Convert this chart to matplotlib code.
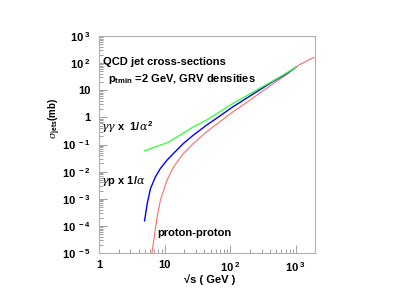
import numpy as np
import matplotlib
matplotlib.use("Agg")
import matplotlib.pyplot as plt
from matplotlib.ticker import FixedLocator, LogLocator, NullFormatter

plt.rcParams['font.family'] = ['Liberation Sans', 'DejaVu Sans']
plt.rcParams['mathtext.fontset'] = 'custom'
plt.rcParams['mathtext.rm'] = 'Liberation Sans:bold'
plt.rcParams['mathtext.it'] = 'DejaVu Serif:italic'
plt.rcParams['mathtext.bf'] = 'Liberation Sans:bold'

# sqrt(s) in GeV, cross sections in mb
gg_x = [4.94, 6.83, 10.87, 17.25, 27.4, 43.6, 69.2, 109.8, 175, 277, 441, 702, 993]
gg_y = [0.0586, 0.0782, 0.1156, 0.222, 0.450, 0.795, 1.61, 3.29, 6.11,
        11.7, 21.8, 42.0, 70.0]

gp_x = [4.94, 5.43, 6.09, 7.24, 8.61, 10.87, 13.67, 19.35, 27.4, 43.6,
        69.2, 109.8, 175, 277, 441, 702, 993]
gp_y = [1.53e-4, 6.71e-4, 2.40e-3, 6.43e-3, 0.0131, 0.0266, 0.047, 0.110,
        0.222, 0.520, 1.12, 2.46, 5.02, 10.2, 20.6, 39.6, 70.0]

pp_x = [6.40, 6.83, 7.68, 8.61, 10.87, 13.67, 19.35, 27.4, 43.6, 69.2,
        109.8, 175, 277, 441, 702, 1114, 1875]
pp_y = [1.0e-5, 2.96e-5, 2.15e-4, 8.88e-4, 4.86e-3, 0.0150, 0.047, 0.110,
        0.294, 0.689, 1.61, 3.46, 7.69, 16.9, 36.4, 85.1, 164]

x_ticks = [1, 10, 100, 1000]
x_labels = ['1', '10', r'$10^{\ 2}$', r'$10^{\ 3}$']
y_ticks = [1e-5, 1e-4, 1e-3, 1e-2, 1e-1, 1, 10, 100, 1000]
y_labels = [r'$10^{\ -5}$', r'$10^{\ -4}$', r'$10^{\ -3}$', r'$10^{\ -2}$',
            r'$10^{\ -1}$', '1', '10', r'$10^{\ 2}$', r'$10^{\ 3}$']

fig = plt.figure(figsize=(4, 2.99), dpi=100)
ax = fig.add_axes([0.2475, 0.1538, 0.54, 0.7258])

ax.plot(pp_x, pp_y, color='#ff6a6a', lw=0.8)
ax.plot(gp_x, gp_y, color='#0000ff', lw=1.0)
ax.plot(gg_x, gg_y, color='#40ff40', lw=1.0)

ax.set_xscale('log')
ax.set_yscale('log')
ax.set_xlim(1, 1950)
ax.set_ylim(1e-5, 1e3)

for s in ax.spines.values():
    s.set_color('#b0b0b0')
    s.set_linewidth(0.8)

ax.xaxis.set_major_locator(FixedLocator(x_ticks))
ax.set_xticklabels(x_labels)
ax.yaxis.set_major_locator(FixedLocator(y_ticks))
ax.set_yticklabels(y_labels)
ax.xaxis.set_minor_locator(LogLocator(base=10, subs=np.arange(2, 10), numticks=20))
ax.yaxis.set_minor_locator(LogLocator(base=10, subs=np.arange(2, 10), numticks=20))
ax.xaxis.set_minor_formatter(NullFormatter())
ax.yaxis.set_minor_formatter(NullFormatter())
ax.tick_params(which='both', direction='in', color='#909090', width=0.6,
               top=False, right=False, labelsize=8)
ax.tick_params(which='major', length=6)
ax.tick_params(which='minor', length=3)
ax.tick_params(axis='x', pad=5)
ax.tick_params(axis='y', pad=6)
for lab in ax.get_xticklabels() + ax.get_yticklabels():
    lab.set_fontweight('bold')

ax.text(0.02, 0.865, 'QCD jet cross-sections', transform=ax.transAxes,
        fontsize=8, fontweight='bold')
ax.text(0.04, 0.79, r'p$_{\mathregular{tmin}}$ =2 GeV, GRV densities',
        transform=ax.transAxes, fontsize=8, fontweight='bold')
ax.text(0.01, 0.56, r'$\gamma\gamma$ x  1/$\alpha^2$', transform=ax.transAxes,
        fontsize=8, fontweight='bold')
ax.text(0.01, 0.32, r'$\gamma$p x 1/$\alpha$', transform=ax.transAxes,
        fontsize=8, fontweight='bold')
ax.text(0.27, 0.08, 'proton-proton', transform=ax.transAxes,
        fontsize=8, fontweight='bold')

ax.set_xlabel('\u221as ( GeV )', fontsize=8, fontweight='bold')
ax.xaxis.set_label_coords(0.51, -0.1)
ax.set_ylabel(r'$\sigma_{\mathregular{jets}}$(mb)', fontsize=7, fontweight='bold')
ax.yaxis.set_label_coords(-0.165, 0.62)

fig.savefig('out.png', dpi=100)
